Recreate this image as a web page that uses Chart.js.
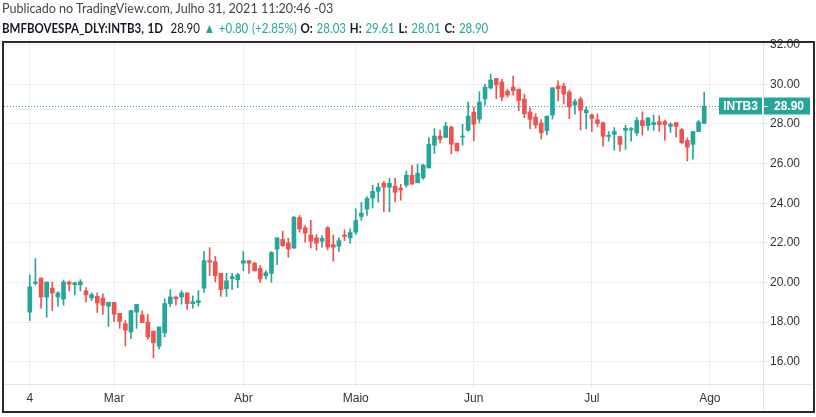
<!DOCTYPE html>
<html>
<head>
<meta charset="utf-8">
<script src="https://cdn.jsdelivr.net/npm/chart.js@4"></script>
<style>
  html, body { margin: 0; padding: 0; background: #fff; }
  #wrap { position: relative; width: 816px; height: 417px; overflow: hidden; }
  #c { position: absolute; left: 0; top: 0; }
  #frame { position: absolute; left: 2px; top: 41px; width: 813px; height: 372px;
           box-sizing: border-box; border: 2px solid #2b2b2b; pointer-events: none; }
  .hdr { position: absolute; left: 2px; white-space: nowrap; font-family: "Lato", sans-serif;
         font-size: 13.5px; line-height: 16px; transform-origin: 0 0; }
  #h1 { top: 0px; color: #444; }
  #h2 { top: 20px; color: #131722; word-spacing: 1px; }
  #h2 b { font-weight: 700; }
  #h2 .g { color: #26a69a; }
</style>
</head>
<body>
<div id="wrap">
  <canvas id="c" width="816" height="417"></canvas>
  <div id="frame"></div>
  <div class="hdr" id="h1">Publicado no TradingView.com, Julho 31, 2021 11:20:46 -03</div>
  <div class="hdr" id="h2"><b>BMFBOVESPA_DLY:INTB3, 1D</b>&nbsp; 28.90 <span class="g">▲ +0.80 (+2.85%)</span> <b>O:</b> <span class="g">28.03</span> <b>H:</b> <span class="g">29.61</span> <b>L:</b> <span class="g">28.01</span> <b>C:</b> <span class="g">28.90</span></div>
</div>
<script>
// INTB3 daily candles, 4 Feb - 30 Jul 2021 (one entry per trading day)
const open  = [18.50,19.95,20.22,19.26,19.71,19.26,19.16,20.02,19.88,19.88,19.57,19.21,19.30,19.20,18.80,
  18.99,18.44,17.91,17.50,18.50,18.36,18.00,17.54,16.78,17.46,18.93,19.27,19.27,19.47,18.93,18.98,19.71,21.10,21.05,20.46,19.68,20.19,20.14,
  20.97,21.10,20.98,20.70,20.34,20.46,21.68,22.17,22.00,21.73,23.28,22.76,22.40,22.25,22.08,22.76,21.91,21.83,22.39,22.25,
  22.54,23.33,23.70,24.27,24.60,25.01,24.81,24.86,24.76,24.91,25.41,25.03,25.28,25.78,26.93,27.39,27.32,27.84,27.03,27.34,27.69,
  28.60,28.25,29.27,29.82,30.30,30.12,29.66,29.87,29.76,29.26,28.61,28.35,28.05,27.66,28.45,29.92,29.92,29.61,28.96,29.26,28.57,
  28.46,28.21,28.07,27.37,27.47,27.37,27.68,27.70,27.55,28.17,27.92,27.97,28.12,28.12,27.88,28.07,27.72,27.17,26.97,27.62,28.03];
const high  = [20.38,21.20,20.22,20.02,20.02,19.52,20.12,20.07,20.02,20.14,19.74,19.47,19.47,19.42,19.00,
  18.99,18.44,18.07,18.58,18.89,18.56,18.39,17.54,17.75,19.17,19.63,19.27,19.58,19.47,19.32,19.58,21.56,21.76,21.31,20.46,20.46,20.46,20.46,
  21.56,21.10,21.00,20.85,20.59,21.56,22.25,22.59,22.23,23.33,23.38,22.87,23.13,22.42,22.37,22.82,22.40,22.25,22.66,22.71,
  23.72,24.04,24.34,24.91,25.01,25.11,25.26,25.26,24.96,25.62,25.92,25.97,25.97,27.32,27.77,27.69,28.09,27.89,27.03,27.99,29.11,
  28.85,29.63,30.00,30.52,30.30,30.25,29.75,30.42,29.76,29.51,28.82,28.52,28.22,28.40,29.83,30.18,30.05,29.71,29.24,29.36,28.87,
  28.50,28.51,28.10,27.62,27.82,27.37,27.93,27.82,28.33,28.62,28.33,28.45,28.42,28.20,28.07,28.07,27.77,27.30,27.62,28.18,29.61];
const low   = [18.07,19.88,18.70,18.24,18.58,18.79,18.85,19.57,19.37,19.57,19.00,19.09,18.48,18.39,17.78,
  18.02,17.68,16.79,17.16,17.68,17.97,17.12,16.19,16.64,17.25,18.78,18.85,18.90,18.63,18.69,18.81,19.49,20.34,20.03,19.29,19.29,19.63,19.73,
  20.59,20.46,20.56,20.00,20.17,20.00,20.90,21.81,21.27,21.73,22.54,22.03,21.74,21.63,21.78,21.64,21.07,21.57,22.11,21.98,
  22.42,23.13,23.38,23.76,24.06,23.56,23.56,24.06,24.15,24.81,24.96,25.03,25.21,25.78,26.51,27.05,27.32,26.49,26.64,26.93,27.64,
  27.15,28.05,28.95,29.76,29.28,29.16,29.36,29.45,28.67,28.32,27.76,27.78,27.24,27.45,28.25,29.16,29.01,28.27,28.50,27.70,27.76,
  27.62,27.87,26.88,27.13,26.68,26.63,26.72,27.13,27.42,27.43,27.68,27.68,27.63,27.18,27.58,27.33,27.02,26.13,26.22,27.62,28.01];
const close = [19.78,20.02,19.26,20.02,19.47,19.47,20.02,19.91,19.98,20.03,19.37,19.38,18.96,18.85,19.00,
  18.39,18.03,17.59,18.58,18.89,17.97,17.24,16.95,17.75,18.93,19.27,19.17,19.47,18.93,19.03,19.08,21.10,21.02,20.34,19.63,20.08,20.29,20.39,
  21.10,20.97,20.59,20.17,20.49,21.51,22.25,21.86,21.68,23.30,22.69,22.49,22.08,21.98,22.22,21.78,21.78,22.11,22.32,22.52,
  23.13,23.50,24.24,24.60,24.81,24.81,25.01,24.55,24.67,25.41,24.96,25.51,25.92,26.98,27.39,27.23,27.89,26.98,26.64,27.39,28.40,
  27.99,29.11,29.86,30.22,29.97,29.36,29.46,29.68,29.18,28.52,28.24,27.95,27.56,28.40,29.83,29.78,29.51,28.86,29.14,28.69,28.71,
  28.28,28.03,27.38,27.43,27.62,26.97,27.78,27.77,28.18,27.92,28.30,28.07,27.97,27.97,27.98,27.88,27.05,26.83,27.62,28.10,28.90];

// first trading day of each month (index into the arrays) and its axis label
const monthStarts = [0, 15, 38, 58, 79, 100, 121];
const monthLabels = ["4", "Mar", "Abr", "Maio", "Jun", "Jul", "Ago"];
const priceTicks = [16, 18, 20, 22, 24, 26, 28, 30, 32];
const symbol = "INTB3";

const UP = "#26a69a", DOWN = "#ef5350", GRID = "#eeeeee", AXIS = "#e0e3eb";
const FONT = "'Liberation Sans', Arial, sans-serif";

const colors = close.map((c, i) => c >= open[i] ? UP : DOWN);
const bodies = close.map((c, i) => ({ x: i, y: [open[i], c] }));
const wicks = close.map((c, i) => ({ x: i, y: [low[i], high[i]] }));
const last = close[close.length - 1];

// dotted last-price line, price label and axis separators
const overlay = {
  id: "overlay",
  afterDraw(chart) {
    const { ctx, chartArea: a, scales: { y } } = chart;
    const py = Math.round(y.getPixelForValue(last)) + 0.5;
    ctx.save();
    ctx.strokeStyle = AXIS;
    ctx.lineWidth = 1;
    ctx.beginPath();
    ctx.moveTo(a.left, a.bottom + 0.5); ctx.lineTo(813, a.bottom + 0.5);
    ctx.moveTo(a.right + 0.5, a.top); ctx.lineTo(a.right + 0.5, 411);
    ctx.stroke();

    ctx.strokeStyle = UP;
    ctx.setLineDash([1, 2]);
    ctx.beginPath();
    ctx.moveTo(a.left, py); ctx.lineTo(a.right - 44, py);
    ctx.stroke();
    ctx.setLineDash([]);

    ctx.fillStyle = UP;
    ctx.fillRect(a.right - 44, py - 9, 43, 17);
    ctx.fillRect(a.right + 1, py - 9, 46, 17);
    ctx.fillStyle = "#fff";
    ctx.font = "bold 12px " + FONT;
    ctx.textBaseline = "middle";
    ctx.textAlign = "center";
    ctx.fillText(symbol, a.right - 22.5, py);
    ctx.fillText(last.toFixed(2), a.right + 26, py);
    ctx.fillRect(a.right + 1, py - 0.5, 4, 1);
    ctx.restore();
  }
};

new Chart(document.getElementById("c"), {
  type: "bar",
  data: {
    datasets: [
      { data: bodies, backgroundColor: colors, barThickness: 4, minBarLength: 1, grouped: false },
      { data: wicks, backgroundColor: colors, barThickness: 1, grouped: false }
    ]
  },
  options: {
    responsive: false,
    animation: false,
    layout: { padding: { left: 4, top: 43, right: 3, bottom: 6 } },
    plugins: { legend: { display: false }, tooltip: { enabled: false } },
    scales: {
      x: {
        type: "linear",
        min: -4.59,
        max: 130.46,
        offset: false,
        afterBuildTicks: s => { s.ticks = monthStarts.map(v => ({ value: v })); },
        afterFit: s => { s.height = 27; },
        grid: { color: GRID, tickLength: 4, tickColor: AXIS, offset: false },
        border: { display: false },
        ticks: {
          autoSkip: false, maxRotation: 0, padding: 3, color: "#333",
          font: { family: FONT, size: 12 },
          callback: v => monthLabels[monthStarts.indexOf(v)]
        }
      },
      y: {
        position: "right",
        min: 14.87,
        max: 32.09,
        afterBuildTicks: s => { s.ticks = priceTicks.map(v => ({ value: v })); },
        afterFit: s => { s.width = 50; },
        grid: { color: GRID, tickLength: 5, tickColor: AXIS },
        border: { display: false },
        ticks: {
          padding: 2, color: "#333",
          font: { family: FONT, size: 12 },
          callback: v => v.toFixed(2)
        }
      }
    }
  },
  plugins: [overlay]
});

// squeeze header lines to the measured widths of the original
[["h1", 331], ["h2", 486]].forEach(([id, w]) => {
  const el = document.getElementById(id);
  el.style.transform = "scaleX(" + (w / el.offsetWidth) + ")";
});
</script>
</body>
</html>
